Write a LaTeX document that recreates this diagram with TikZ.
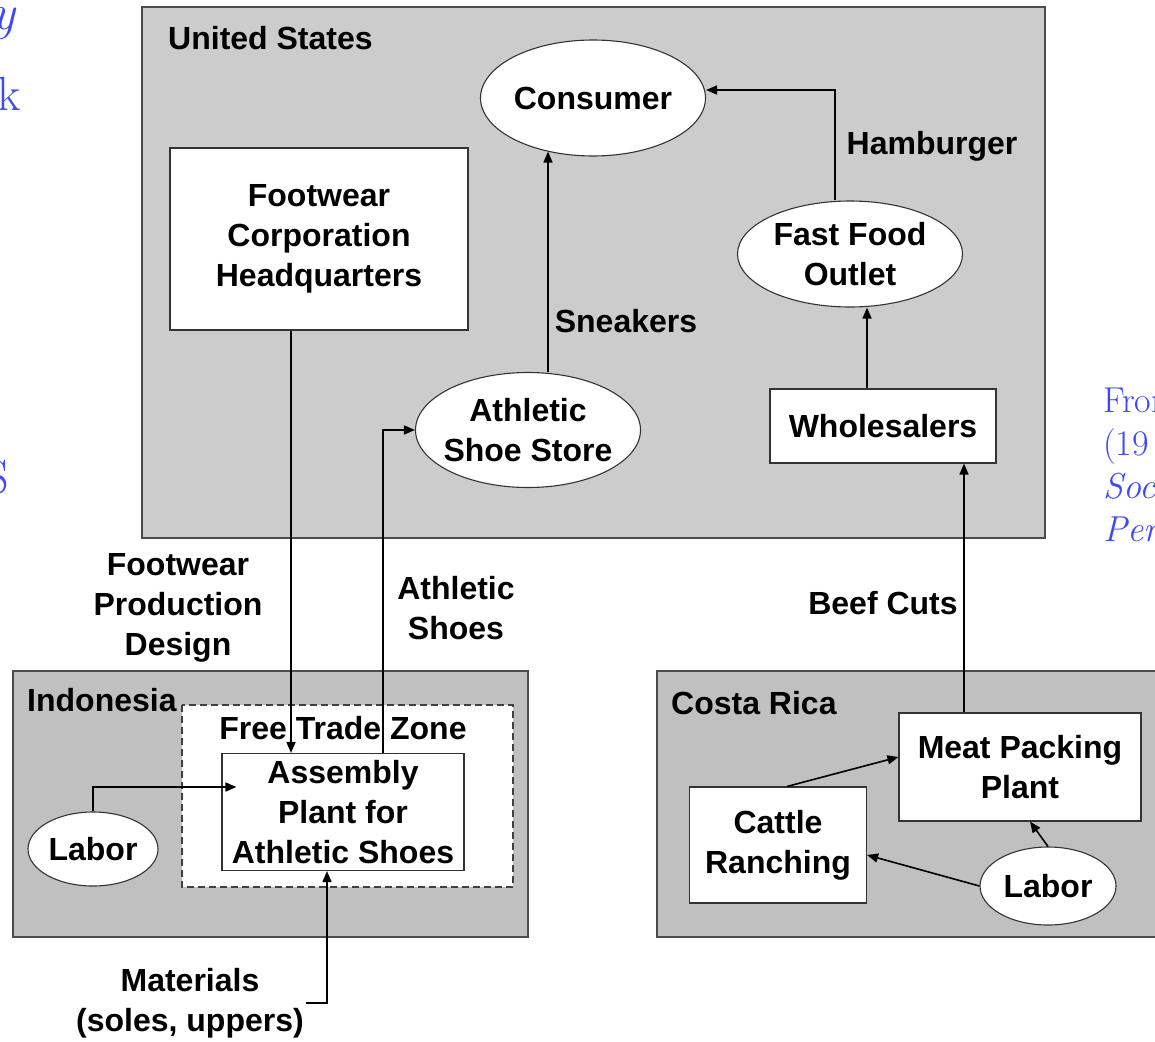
\documentclass[tikz,border=0pt]{standalone}
\usepackage{fontspec}
\newfontfamily\arialb{Liberation Sans}
\usepackage{tikz}
\usetikzlibrary{arrows.meta,positioning,shapes.geometric}

\definecolor{usgray}{RGB}{204,204,204}
\definecolor{regiongray}{RGB}{192,192,192}
\definecolor{slideblue}{RGB}{60,72,250}

\begin{document}
\begin{tikzpicture}[x=1pt, y=-1pt, >={Triangle[length=11pt,width=9pt]},
  txt/.style={font=\arialb\fontsize{32}{40}\selectfont\bfseries, align=center, inner sep=0pt},
  region/.style={draw=black!70, line width=1.3pt},
  box/.style={draw=black!80, fill=white, line width=1.1pt, inner sep=0pt},
  oval/.style={ellipse, draw=black!80, fill=white, line width=1.1pt, inner sep=0pt},
  flow/.style={->, line width=1.6pt},
  frag/.style={text=slideblue, inner sep=0pt}]
  \useasboundingbox (0,0) rectangle (1155,1041);

  % slide text cut off at the edges
  \node[frag, anchor=base east, font=\fontsize{50}{54}\selectfont] (fy) at (17,30) {\textit{y}};
  \node[frag, anchor=base east, font=\fontsize{48}{54}\selectfont] (fk) at (21,110) {k};
  \node[frag, anchor=base east, font=\fontsize{48}{54}\selectfont] (fs) at (9,493) {S};
  \node[frag, anchor=base west, font=\fontsize{36}{40}\selectfont] (fro) at (1103,412) {From};
  \node[frag, anchor=base west, font=\fontsize{36}{40}\selectfont] (fyr) at (1103,455) {(19};
  \node[frag, anchor=base west, font=\fontsize{36}{40}\selectfont] (fsoc) at (1103,498) {\textit{Soc}};
  \node[frag, anchor=base west, font=\fontsize{36}{40}\selectfont] (fper) at (1103,541) {\textit{Per}};

  % regions
  \draw[region, fill=usgray] (142,7) rectangle (1045,538);
  \draw[region, fill=regiongray] (13,671) rectangle (528,937);
  \draw[region, fill=regiongray] (657,671) rectangle (1175,937);
  \draw[black!75, line width=1.1pt, dash pattern=on 7pt off 4pt, fill=white] (182,705) rectangle (513,887);

  \node[txt, anchor=west] (us) at (168,38) {United States};
  \node[txt, anchor=west] (ind) at (27,700) {Indonesia};
  \node[txt, anchor=west] (cr) at (671,703) {Costa Rica};
  \node[txt] (ftz) at (343,728) {Free Trade Zone};

  % United States
  \node[oval, minimum width=225pt, minimum height=116pt, label={[txt]center:Consumer}] (con) at (593,98) {};
  \node[box, txt, minimum width=298pt, minimum height=182pt] (hq) at (319,239) {Footwear\\Corporation\\Headquarters};
  \node[oval, minimum width=225pt, minimum height=115pt, label={[txt]center:{Athletic\\Shoe Store}}] (shop) at (528,430) {};
  \node[oval, minimum width=225pt, minimum height=106pt, label={[txt]center:{Fast Food\\Outlet}}] (ffo) at (850,254) {};
  \node[box, txt, minimum width=226pt, minimum height=74pt] (whs) at (883,426) {Wholesalers};

  % Indonesia
  \node[box, txt, minimum width=242pt, minimum height=117pt] (asm) at (343,812) {Assembly\\Plant for\\Athletic Shoes};
  \node[oval, minimum width=130pt, minimum height=74pt, label={[txt]center:Labor}] (lab1) at (93,849) {};
  \node[txt] (mat) at (190,1003) {Materials\\(soles, uppers)};

  % Costa Rica
  \node[box, txt, minimum width=242pt, minimum height=108pt] (mpp) at (1020,767) {Meat Packing\\Plant};
  \node[box, txt, minimum width=177pt, minimum height=116pt] (cat) at (778,845) {Cattle\\Ranching};
  \node[oval, minimum width=136pt, minimum height=78pt, label={[txt]center:Labor}] (lab2) at (1048,886) {};

  % flow labels
  \node[txt] (ham) at (932,146) {Hamburger};
  \node[txt] (snk) at (626,321) {Sneakers};
  \node[txt] (fpd) at (178,608) {Footwear\\Production\\Design};
  \node[txt] (ats) at (456,608) {Athletic\\Shoes};
  \node[txt] (bcf) at (883,603) {Beef Cuts};

  % flows
  \draw[flow] ([xshift=-15pt]ffo.north) |- ([yshift=8pt]con.east);
  \draw[flow] ([xshift=20pt]shop.north) -- ([xshift=20pt,yshift=5pt]shop.north |- con.south);
  \draw[flow] ([xshift=-16pt]whs.north) -- ([xshift=-16pt]whs.north |- ffo.south);
  \draw[flow] ([xshift=-28pt]hq.south) -- ([xshift=-28pt]hq.south |- asm.north);
  \draw[flow] ([xshift=40pt]asm.north) |- (shop.west);
  \draw[flow] ([xshift=-56pt]mpp.north) -- ([xshift=-56pt]mpp.north |- whs.south);
  \draw[flow] (lab1.north) |- ([shift={(15pt,25pt)}]asm.west);
  \draw[flow] ([xshift=2pt]mat.east) -| ([xshift=-16pt]asm.south);
  \draw[flow] ([xshift=9pt]cat.north) -- ([yshift=10pt]mpp.west);
  \draw[flow] (lab2.west) -- ([yshift=-10pt]cat.east);
  \draw[flow] (lab2.north) -- ([xshift=10pt]mpp.south);
\end{tikzpicture}
\end{document}
